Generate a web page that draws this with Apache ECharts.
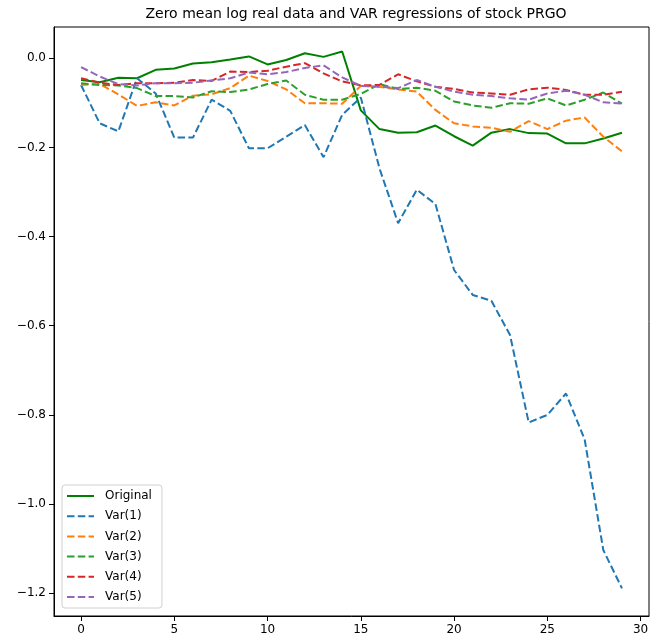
<!DOCTYPE html>
<html>
<head>
<meta charset="utf-8">
<script src="https://cdn.jsdelivr.net/npm/echarts@6/dist/echarts.min.js"></script>
<style>html,body{margin:0;padding:0;background:#fff}#c{width:660px;height:641px}</style>
</head>
<body>
<div id="c"></div>
<script>
const steps = [0,1,2,3,4,5,6,7,8,9,10,11,12,13,14,15,16,17,18,19,20,21,22,23,24,25,26,27,28,29];
const original = [-0.049,-0.054,-0.044,-0.045,-0.026,-0.023,-0.012,-0.009,-0.003,0.004,-0.014,-0.004,0.011,0.003,0.015,-0.117,-0.159,-0.167,-0.166,-0.151,-0.175,-0.196,-0.167,-0.159,-0.168,-0.169,-0.191,-0.191,-0.180,-0.167];
const var1 = [-0.060,-0.146,-0.164,-0.045,-0.079,-0.178,-0.178,-0.093,-0.118,-0.202,-0.202,-0.176,-0.150,-0.222,-0.127,-0.088,-0.247,-0.370,-0.295,-0.327,-0.475,-0.531,-0.544,-0.621,-0.817,-0.800,-0.752,-0.855,-1.103,-1.189];
const var2 = [-0.060,-0.058,-0.081,-0.107,-0.099,-0.106,-0.084,-0.081,-0.067,-0.039,-0.051,-0.070,-0.101,-0.101,-0.102,-0.062,-0.064,-0.070,-0.075,-0.116,-0.146,-0.153,-0.156,-0.165,-0.141,-0.159,-0.140,-0.133,-0.176,-0.209];
const var3 = [-0.056,-0.060,-0.061,-0.067,-0.085,-0.085,-0.088,-0.074,-0.076,-0.070,-0.058,-0.050,-0.082,-0.093,-0.093,-0.080,-0.058,-0.069,-0.066,-0.073,-0.097,-0.106,-0.111,-0.101,-0.102,-0.090,-0.106,-0.093,-0.077,-0.102];
const var4 = [-0.045,-0.055,-0.060,-0.056,-0.056,-0.055,-0.049,-0.051,-0.030,-0.031,-0.028,-0.019,-0.011,-0.034,-0.052,-0.061,-0.060,-0.036,-0.052,-0.064,-0.069,-0.077,-0.079,-0.082,-0.070,-0.066,-0.071,-0.082,-0.082,-0.075];
const var5 = [-0.020,-0.041,-0.058,-0.061,-0.056,-0.056,-0.055,-0.050,-0.045,-0.032,-0.036,-0.031,-0.022,-0.016,-0.043,-0.062,-0.064,-0.067,-0.049,-0.064,-0.075,-0.082,-0.085,-0.090,-0.093,-0.079,-0.073,-0.082,-0.099,-0.102];
const xTicks = [0,5,10,15,20,25,30];
const yTicks = [-1.2,-1.0,-0.8,-0.6,-0.4,-0.2,0.0];
const seriesNames = ['Original','Var(1)','Var(2)','Var(3)','Var(4)','Var(5)'];
const seriesValues = [original,var1,var2,var3,var4,var5];
const colors = ['#008000','#1f77b4','#ff7f0e','#2ca02c','#d62728','#9467bd'];

const font = 'DejaVu Sans';
const chart = echarts.init(document.getElementById('c'), null, {renderer:'canvas'});
const series = seriesNames.map((n,k)=>({
  name:n, type:'line', symbol:'none', showSymbol:false, animation:false,
  data: steps.map((s,i)=>[s, seriesValues[k][i]]),
  lineStyle:{color:colors[k], width:2, type: k===0 ? 'solid' : [7.5,3.3]},
  itemStyle:{color:colors[k]},
  z: 2
}));
chart.setOption({
  animation:false,
  backgroundColor:'#fff',
  title:{text:'Zero mean log real data and VAR regressions of stock PRGO', left:351, top:2, textAlign:'center',
    textStyle:{fontFamily:font, fontSize:14, fontWeight:'normal', color:'#000'}},
  grid:{left:54, right:11, top:27, bottom:25, show:true, borderColor:'#000', borderWidth:1, backgroundColor:'transparent'},
  xAxis:{type:'value', min:-1.45, max:30.45,
    axisLine:{show:true, onZero:false, lineStyle:{color:'#000', width:1}},
    axisTick:{show:true, customValues:xTicks, length:5, lineStyle:{color:'#000'}},
    axisLabel:{customValues:xTicks, fontFamily:font, fontSize:12, color:'#000', margin:8},
    splitLine:{show:false}},
  yAxis:{type:'value', min:-1.251, max:0.070,
    axisLine:{show:true, onZero:false, lineStyle:{color:'#000', width:1}},
    axisTick:{show:true, customValues:yTicks, length:5, lineStyle:{color:'#000'}},
    axisLabel:{customValues:yTicks, fontFamily:font, fontSize:12, color:'#000', margin:8,
      formatter:v=>(v<0?'\u2212':'')+Math.abs(v).toFixed(1)},
    splitLine:{show:false}},
  legend:{orient:'vertical', left:62, top:485, padding:[5,10,5,4], itemGap:8.2, itemWidth:27, itemHeight:12,
    borderColor:'#d0d0d0', borderWidth:1, borderRadius:3, backgroundColor:'rgba(255,255,255,0.8)',
    itemStyle:{opacity:0},
    textStyle:{fontFamily:font, fontSize:12, color:'#000', padding:[0,0,0,6]},
    data:seriesNames},
  series
});
</script>
</body>
</html>
